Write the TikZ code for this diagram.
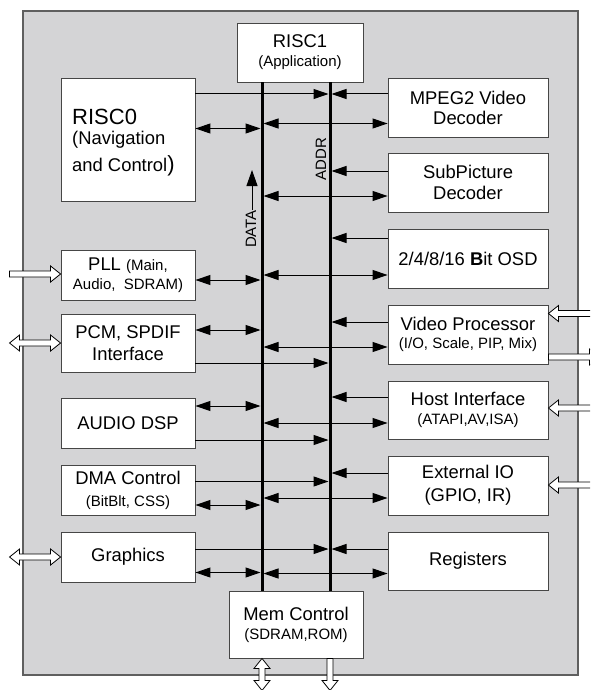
\documentclass[tikz,border=0pt]{standalone}
\usepackage{fontspec}
\setmainfont{Liberation Sans}
\usetikzlibrary{arrows.meta}
\definecolor{bgfill}{RGB}{212,212,214}
\definecolor{bgedge}{RGB}{95,95,95}
\definecolor{boxedge}{RGB}{70,70,70}
\newcommand\fntBig{\fontsize{18.4}{21}\selectfont}
\newcommand\fntSmall{\fontsize{15}{18}\selectfont}
\newcommand\fntHuge{\fontsize{22}{24}\selectfont}
\begin{document}
\begin{tikzpicture}[x=1pt,y=-1pt,
  box/.style={draw=boxedge, fill=white, line width=0.9pt, inner sep=0pt, align=center, font=\fntBig},
  lbox/.style={box, minimum width=134, minimum height=50},
  rbox/.style={box, minimum width=160, minimum height=59},
  bus/.style={line width=3pt, black},
  conn/.style={line width=1pt, black},
  tipR/.style={conn, -{Triangle[length=15pt,width=10pt]}},
  tipLR/.style={conn, {Triangle[length=15pt,width=10pt]}-{Triangle[length=15pt,width=10pt]}},
  hollowst/.style={draw=black, fill=white, line width=0.8pt, line join=miter},
  buslabel/.style={font=\fontsize{15}{18}\selectfont, inner sep=0pt},
  pics/sarrow/.style={code={\draw[hollowst] (0,-3)--({#1-10},-3)--({#1-10},-8)--(#1,0)--({#1-10},8)--({#1-10},3)--(0,3)--cycle;}},
  pics/darrow/.style={code={\draw[hollowst] (10,-3)--({#1-10},-3)--({#1-10},-8)--(#1,0)--({#1-10},8)--({#1-10},3)--(10,3)--(10,8)--(0,0)--(10,-8)--cycle;}},
]
\clip (0,0) rectangle (590,690);
\fill[white] (0,0) rectangle (590,690);
\draw[fill=bgfill, draw=bgedge, line width=1.2pt] (23,11) rectangle (578,675);

% bus positions
\coordinate (D) at (262,0);
\coordinate (A) at (330,0);
\coordinate (DL) at (260.5,0);
\coordinate (DR) at (263.5,0);
\coordinate (AL) at (328.5,0);
\coordinate (AR) at (331.5,0);

% boxes
\node[box, minimum width=126, minimum height=59] (risc1) at (300,52.5) {RISC1\\[-2pt]{\fntSmall (Application)}};
\node[box, minimum width=134, minimum height=67] (mem) at (296,624.5) {Mem Control\\[-2pt]{\fntSmall (SDRAM,ROM)}};

\node[box, minimum width=134, minimum height=123] (risc0) at (128,139.5) {};
\node[anchor=north west, inner sep=0pt, align=left, font=\fntBig] (risc0text) at (72,108.5)
  {{\fntHuge RISC0}\\[-0.3pt](Navigation\\[5.7pt]and Control{\fntHuge )}};
\node[lbox] (pll) at (128,275) {PLL {\fntSmall (Main,}\\[-2.5pt]{\fntSmall Audio,\ \ SDRAM)}};
\node[lbox, minimum height=58] (pcm) at (128,343) {PCM, SPDIF\\[1pt]Interface};
\node[lbox] (audio) at (128,423) {AUDIO DSP};
\node[lbox] (dma) at (128,490) {DMA Control\\[1pt]{\fntSmall (BitBlt, CSS)}};
\node[lbox] (gfx) at (128,557) {Graphics};

\node[rbox] (mpeg) at (468,107.5) {MPEG2 Video\\[-1pt]Decoder};
\node[rbox] (subpic) at (468,182.5) {SubPicture\\[0.7pt]Decoder};
\node[rbox] (osd) at (468,258.5) {2/4/8/16 \textbf{B}it OSD};
\node[rbox] (vp) at (468,334.5) {Video Processor\\[-2.7pt]{\fntSmall (I/O, Scale, PIP, Mix)}};
\node[rbox, minimum height=58] (host) at (468,410) {Host Interface\\[-2.7pt]{\fntSmall (ATAPI,AV,ISA)}};
\node[rbox] (extio) at (468,485.5) {External IO\\[2pt](GPIO, IR)};
\node[rbox, minimum height=58] (regs) at (468,561) {Registers};

% buses
\draw[bus] (risc1.south -| D) -- (mem.north -| D);
\draw[bus] (risc1.south -| A) -- (mem.north -| A);

% bus labels
\node[buslabel, rotate=90] (datalbl) at (251,229) {DATA};
\coordinate (datatip) at (252,170);
\draw[conn, -{Triangle[length=16pt,width=11pt]}] (datalbl.east -| datatip) -- (datatip);
\node[buslabel, rotate=90] (addrlbl) at (321,159) {ADDR};

% left connectors
\draw[tipR] (risc0.east |- 0,94) -- (AL |- 0,94);
\draw[tipLR] (risc0.east |- 0,128.5) -- (DL |- 0,128.5);
\draw[tipLR] (pll.east |- 0,280) -- (DL |- 0,280);
\draw[tipLR] (pcm.east |- 0,330) -- (DL |- 0,330);
\draw[tipR] (pcm.east |- 0,363) -- (AL |- 0,363);
\draw[tipLR] (audio.east |- 0,406) -- (DL |- 0,406);
\draw[tipR] (audio.east |- 0,440) -- (AL |- 0,440);
\draw[tipR] (dma.east |- 0,481.5) -- (AL |- 0,481.5);
\draw[tipLR] (dma.east |- 0,505) -- (DL |- 0,505);
\draw[tipR] (gfx.east |- 0,549) -- (AL |- 0,549);
\draw[tipLR] (gfx.east |- 0,572.5) -- (DL |- 0,572.5);

% right connectors
\draw[tipR] (mpeg.west |- 0,94) -- (AR |- 0,94);
\draw[tipLR] (DR |- 0,123.5) -- (mpeg.west |- 0,123.5);
\draw[tipR] (subpic.west |- 0,171) -- (AR |- 0,171);
\draw[tipLR] (DR |- 0,196) -- (subpic.west |- 0,196);
\draw[tipR] (osd.west |- 0,238) -- (AR |- 0,238);
\draw[tipLR] (DR |- 0,275) -- (osd.west |- 0,275);
\draw[tipR] (vp.west |- 0,322) -- (AR |- 0,322);
\draw[tipLR] (DR |- 0,347) -- (vp.west |- 0,347);
\draw[tipR] (host.west |- 0,397) -- (AR |- 0,397);
\draw[tipLR] (DR |- 0,423) -- (host.west |- 0,423);
\draw[tipR] (extio.west |- 0,473) -- (AR |- 0,473);
\draw[tipLR] (DR |- 0,498) -- (extio.west |- 0,498);
\draw[tipR] (regs.west |- 0,549) -- (AR |- 0,549);
\draw[tipLR] (DR |- 0,573.5) -- (regs.west |- 0,573.5);

% external hollow arrows
\pic at ([xshift=-51pt]pll.west |- 0,274) {sarrow=51};
\pic at ([xshift=-51pt]pcm.west |- 0,343) {darrow=51};
\pic at ([xshift=-51pt]gfx.west |- 0,557) {darrow=51};
\pic[rotate=180] at ([xshift=52pt]vp.east |- 0,313.5) {sarrow=52};
\pic at (vp.east |- 0,357) {sarrow=51};
\pic[rotate=180] at ([xshift=52pt]host.east |- 0,408) {sarrow=52};
\pic[rotate=180] at ([xshift=52pt]extio.east |- 0,485) {sarrow=52};
\pic[rotate=-90] at (mem.south -| D) {darrow=32};
\pic[rotate=-90] at (mem.south -| A) {sarrow=32};
\end{tikzpicture}
\end{document}
